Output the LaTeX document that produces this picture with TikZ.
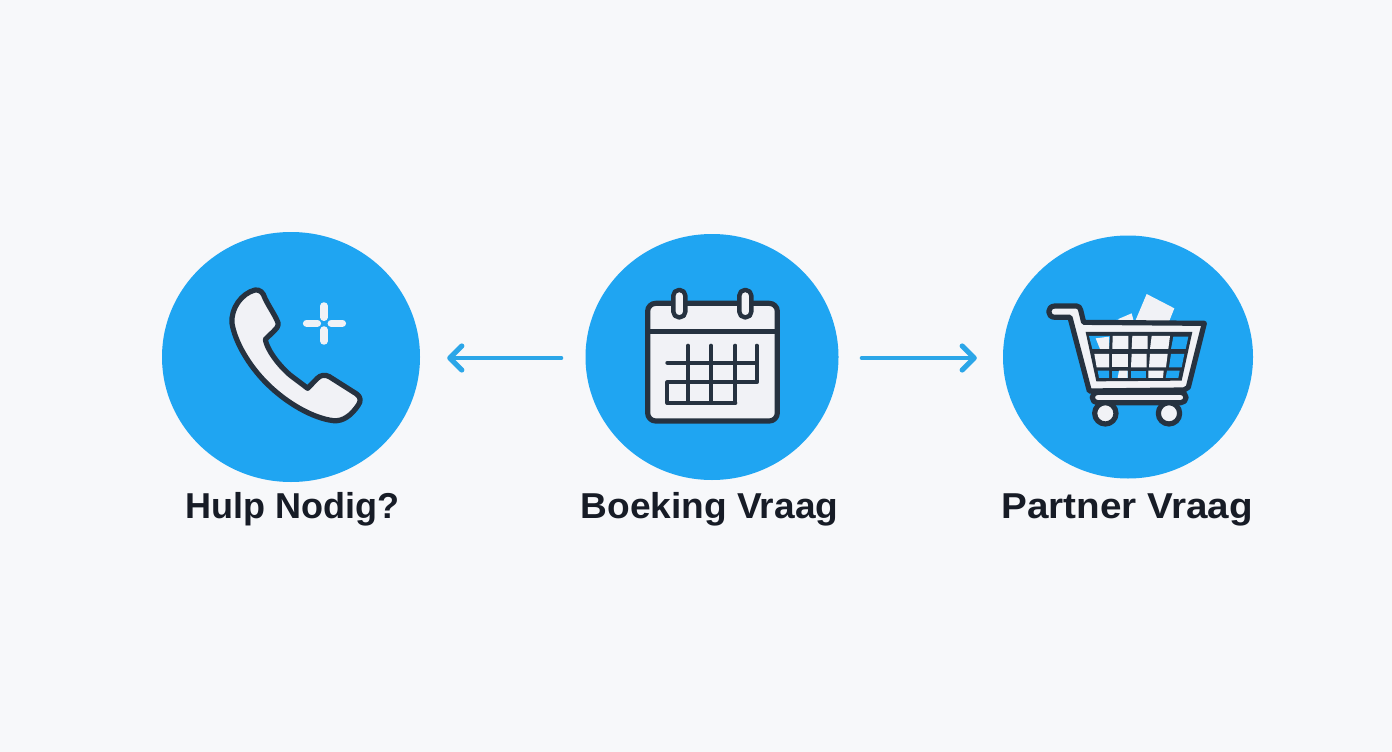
\documentclass[tikz,border=0pt]{standalone}
\usepackage{fontspec}
\setmainfont{Liberation Sans}
\usetikzlibrary{shapes.geometric,arrows.meta}
\definecolor{bg}{HTML}{F7F8FA}
\definecolor{disc}{HTML}{1FA5F2}
\definecolor{ink}{HTML}{263240}
\definecolor{paper}{HTML}{F1F2F6}
\definecolor{flowc}{HTML}{2BA6E8}
\definecolor{txt}{HTML}{171C26}
\tikzset{
  disc/.style={ellipse,fill=disc,draw=none,inner sep=0pt},
  lab/.style={font=\bfseries\fontsize{36}{36}\selectfont,text=txt,anchor=base,inner sep=0pt,transform shape},
  flow/.style={draw=flowc,line width=4pt,line cap=round,-{Straight Barb[length=12pt,width=24pt,line width=5.2pt,round]}},
  iconline/.style={draw=ink,line width=4.6pt,line cap=round,line join=round},
  iconshape/.style={draw=ink,fill=paper,line width=5.2pt,line join=round},
  plusarm/.style={paper,line width=7.5pt,line cap=round},
}
\begin{document}
\begin{tikzpicture}[x=1pt,y=-1pt]
\useasboundingbox (0,0) rectangle (1392,752);
\fill[bg] (0,0) rectangle (1392,752);
\node[disc,minimum width=258pt,minimum height=250pt] (help) at (291,357) {};
\node[disc,minimum width=253pt,minimum height=246pt] (book) at (712,357) {};
\node[disc,minimum width=250pt,minimum height=243pt] (partner) at (1128,357) {};
\coordinate (bookW) at ([yshift=-1pt]book.west);
\coordinate (bookE) at ([yshift=-1pt]book.east);
\draw[flow,shorten <=24pt,shorten >=27pt] (bookW) -- (help.east |- bookW);
\draw[flow,shorten <=23pt,shorten >=26pt] (bookE) -- (partner.west |- bookE);
\node[lab] (t1) at (292.5,518) {Hulp Nodig?};
\node[lab,xscale=1.03] (t2) at (709.5,518) {Boeking Vraag};
\node[lab,xscale=1.073] (t3) at (1127,518) {Partner Vraag};
% phone
\begin{scope}[shift={(210,270)},x=0.3333pt,y=-0.3333pt]
\draw[iconshape]
 (135,60) .. controls (150,58) and (160,68) .. (165,85)
 .. controls (178,112) and (195,135) .. (204,158)
 .. controls (206,170) and (198,178) .. (190,185)
 -- (166,208) .. controls (170,235) and (200,280) .. (240,315)
 -- (293,355) -- (322,325) .. controls (332,315) and (345,313) .. (358,320)
 -- (440,372) .. controls (454,382) and (452,395) .. (445,405)
 .. controls (425,435) and (400,455) .. (370,452)
 .. controls (310,445) and (230,400) .. (170,340)
 .. controls (115,285) and (75,215) .. (66,160)
 .. controls (62,115) and (95,70) .. (135,60) -- cycle;
\draw[plusarm] (342,108) -- (342,142);
\draw[plusarm] (342,180) -- (342,213);
\draw[plusarm] (290,160) -- (322,160);
\draw[plusarm] (364,160) -- (397,160);
\end{scope}
% calendar
\begin{scope}[shift={(630,275)},x=0.3333pt,y=-0.3333pt]
\draw[iconshape,rounded corners=8pt] (53,85) rectangle (442,438);
\draw[iconline] (55,170) -- (440,170);
\foreach \cx in {148,346}{
  \draw[iconshape,line width=4.4pt,rounded corners=5.5pt] (\cx-18,45) rectangle (\cx+18,127);
}
\draw[draw=ink,line width=4pt,line cap=round,line join=round]
  (112,263) -- (380,263) (380,212) -- (380,322) -- (112,322) -- (112,384) -- (316,384)
  (174,212) -- (174,384) (243,212) -- (243,384) (316,212) -- (316,384);
\end{scope}
% cart
\begin{scope}[shift={(1035,280)},x=0.3333pt,y=-0.3333pt]
\fill[paper] (335,42) -- (418,85) -- (398,135) -- (300,125) -- cycle;
\fill[paper] (248,118) -- (290,100) -- (298,130) -- cycle;
\draw[iconshape]
  (60,78) -- (125,78) .. controls (132,78) and (135,84) .. (137,90) -- (146,127)
  -- (508,130) -- (460,322) -- (447,330) -- (163,333) -- (105,112) -- (60,112)
  .. controls (35,112) and (35,78) .. (60,78) -- cycle;
\fill[ink] (152,156) -- (472,156) -- (440,302) -- (184,304) -- cycle;
\foreach \pts/\col in {
  {(162,168)--(225,168)--(222,207)--(172,207)}/disc,
  {(233,168)--(280,168)--(280,207)--(232,207)}/paper,
  {(292,168)--(338,168)--(338,207)--(290,207)}/paper,
  {(350,168)--(405,168)--(400,207)--(345,207)}/paper,
  {(415,170)--(460,170)--(452,207)--(408,207)}/disc,
  {(178,222)--(222,222)--(222,262)--(185,262)}/paper,
  {(232,222)--(278,222)--(278,262)--(232,262)}/paper,
  {(290,222)--(335,222)--(335,262)--(288,262)}/paper,
  {(345,222)--(398,222)--(393,262)--(342,262)}/paper,
  {(408,222)--(448,222)--(440,262)--(402,262)}/disc,
  {(188,272)--(222,272)--(222,294)--(192,294)}/disc,
  {(232,272)--(278,272)--(278,294)--(232,294)}/disc,
  {(288,272)--(332,272)--(332,294)--(288,294)}/disc,
  {(340,272)--(386,272)--(384,294)--(340,294)}/paper,
  {(396,272)--(434,272)--(430,294)--(392,294)}/disc}{
  \fill[\col] \pts -- cycle;
}
\fill[paper] (182,175) -- (222,170) -- (222,207) -- (195,207) -- cycle;
\fill[paper] (252,272) -- (278,272) -- (278,294) -- (248,294) -- cycle;
\draw[iconshape,rounded corners=5pt] (172,337) rectangle (453,368);
\draw[iconshape] (211,400) circle[radius=32];
\draw[iconshape] (402,400) circle[radius=32];
\end{scope}
\end{tikzpicture}
\end{document}
